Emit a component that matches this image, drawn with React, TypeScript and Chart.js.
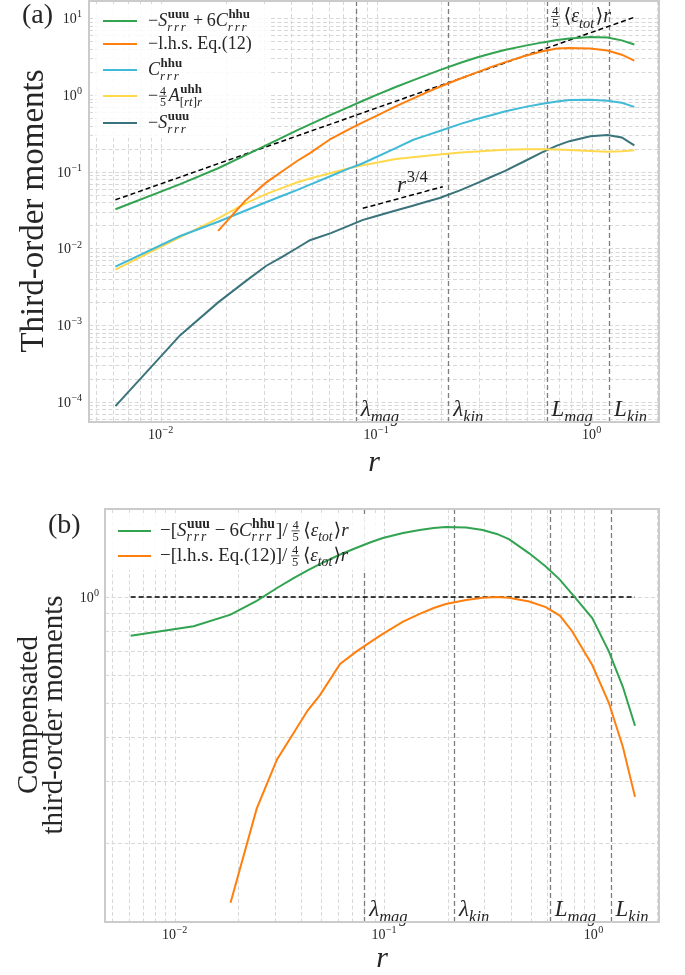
import React, { useEffect, useRef } from 'react';
import { Chart, registerables } from 'chart.js';
Chart.register(...registerables);

// ---------------- data ----------------
const r = [0.00614, 0.01227, 0.01841, 0.02454, 0.03068, 0.03682, 0.04295, 0.04909, 0.06136, 0.07363, 0.0859, 0.09817, 0.1227, 0.1473, 0.1718, 0.1963, 0.2454, 0.2945, 0.3436, 0.3927, 0.4909, 0.589, 0.6872, 0.7854, 0.9817, 1.178, 1.374, 1.571];
// panel (a)
const sumA = [0.0324, 0.0688, 0.111, 0.163, 0.221, 0.283, 0.348, 0.414, 0.551, 0.691, 0.835, 0.981, 1.27, 1.55, 1.83, 2.11, 2.63, 3.1, 3.5, 3.85, 4.4, 4.85, 5.2, 5.45, 5.7, 5.6, 5.15, 4.55];
const lhsA = [null, null, 0.0169, 0.0417, 0.072, 0.103, 0.139, 0.175, 0.269, 0.35, 0.435, 0.524, 0.709, 0.896, 1.09, 1.28, 1.64, 1.99, 2.34, 2.66, 3.24, 3.72, 4.05, 4.1, 4.05, 3.8, 3.35, 2.8];
const chhuA = [0.0058, 0.0145, 0.0223, 0.031, 0.04, 0.049, 0.058, 0.068, 0.088, 0.109, 0.128, 0.152, 0.203, 0.259, 0.3, 0.34, 0.42, 0.49, 0.55, 0.61, 0.7, 0.77, 0.82, 0.86, 0.87, 0.84, 0.79, 0.7];
const auhhA = [0.0053, 0.014, 0.0247, 0.0383, 0.051, 0.062, 0.073, 0.0815, 0.096, 0.11, 0.121, 0.13, 0.146, 0.154, 0.161, 0.168, 0.178, 0.184, 0.189, 0.193, 0.196, 0.196, 0.195, 0.192, 0.186, 0.182, 0.185, 0.19];
const suuuA = [0.000088, 0.00074, 0.00198, 0.00369, 0.0059, 0.0079, 0.0102, 0.0128, 0.0158, 0.0195, 0.0234, 0.0261, 0.0312, 0.036, 0.0408, 0.0454, 0.0575, 0.0716, 0.0865, 0.102, 0.139, 0.18, 0.219, 0.25, 0.29, 0.3, 0.28, 0.22];
const refR = [0.00614, 1.571];
const refY = [0.043, 10.3];
const slopeR = [0.0863, 0.203];
const slopeY = [0.0333, 0.0638];
// panel (b)
const sumB = [0.775, 0.825, 0.89, 0.975, 1.06, 1.13, 1.19, 1.24, 1.32, 1.38, 1.43, 1.47, 1.52, 1.55, 1.57, 1.58, 1.575, 1.55, 1.51, 1.46, 1.33, 1.22, 1.12, 1.02, 0.87, 0.7, 0.555, 0.43];
const lhsB = [null, null, 0.135, 0.25, 0.345, 0.41, 0.475, 0.525, 0.645, 0.7, 0.745, 0.785, 0.85, 0.895, 0.93, 0.955, 0.98, 0.995, 1.0, 0.995, 0.97, 0.935, 0.885, 0.8, 0.64, 0.5, 0.375, 0.27];
const unitR = [0.00614, 1.571];
const unitY = [1, 1];
// scale markers
const scaleR = [0.08, 0.215, 0.615, 1.2];
const scaleBase = ['λ', 'λ', 'L', 'L'];
const scaleSub = ['mag', 'kin', 'mag', 'kin'];
// ticks
const xTickVals = [0.01, 0.1, 1];
const xTickExp = ['−2', '−1', '0'];
const yTickValsA = [10, 1, 0.1, 0.01, 0.001, 0.0001];
const yTickExpA = ['1', '0', '−1', '−2', '−3', '−4'];
const yTickValsB = [1];
const yTickExpB = ['0'];

const X_MIN = 0.00463, X_MAX = 2.045;
const YA_MIN = 5.46e-5, YA_MAX = 16.8;
const YB_MIN = 0.119, YB_MAX = 1.778;

// ---------------- styles ----------------
const GREEN = '#32a350';
const ORANGE = '#ff7f0e';
const CYAN = '#40bad6';
const YELLOW = '#ffd84c';
const TEAL = '#3a737b';
const GRID = '#d8d8d8';
const SPINE = '#cbcbcb';
const TXT = '#262626';
const FAM = '"Liberation Serif", "DejaVu Serif", serif';

type P = { t?: string; s?: string; sup?: P[]; sub?: P[]; num?: string; den?: string; gap?: number };
const T = (t: string, s: string = 'n'): P => ({ t, s });
const G = (em: number): P => ({ gap: em });
const fnt = (s: string, size: number) =>
  `${s === 'i' ? 'italic ' : ''}${s === 'b' ? 'bold ' : ''}${size}px ${FAM}`;

function drawParts(ctx: CanvasRenderingContext2D, parts: P[], x: number, y: number, size: number, draw: boolean): number {
  let cx = x;
  for (const p of parts) {
    if (p.gap !== undefined) {
      cx += p.gap * size;
    } else if (p.t !== undefined) {
      ctx.font = fnt(p.s || 'n', size);
      if (draw) ctx.fillText(p.t, cx, y);
      cx += ctx.measureText(p.t).width;
    } else if (p.sup || p.sub) {
      const ss = size * 0.72;
      let w1 = 0, w2 = 0;
      if (p.sup) w1 = drawParts(ctx, p.sup, cx + size * 0.03, y - size * 0.42, ss, draw);
      if (p.sub) w2 = drawParts(ctx, p.sub, cx, y + size * 0.28, ss, draw);
      cx += Math.max(w1 + size * 0.03, w2) + size * 0.06;
    } else if (p.num !== undefined) {
      const fs = size * 0.66;
      ctx.font = fnt('n', fs);
      const wn = ctx.measureText(p.num).width;
      const wd = ctx.measureText(p.den || '').width;
      const w = Math.max(wn, wd) + size * 0.2;
      const axis = y - size * 0.27;
      if (draw) {
        ctx.fillText(p.num, cx + (w - wn) / 2, axis - size * 0.08);
        ctx.fillText(p.den || '', cx + (w - wd) / 2, axis + size * 0.08 + fs * 0.7);
        ctx.fillRect(cx + size * 0.05, axis - 0.4, w - size * 0.1, 0.8);
      }
      cx += w + size * 0.06;
    }
  }
  return cx - x;
}

function drawMath(ctx: CanvasRenderingContext2D, parts: P[], x: number, y: number, size: number, align: string = 'left') {
  const w = drawParts(ctx, parts, 0, 0, size, false);
  let x0 = x;
  if (align === 'center') x0 = x - w / 2;
  if (align === 'right') x0 = x - w;
  drawParts(ctx, parts, x0, y, size, true);
}

function rotText(ctx: CanvasRenderingContext2D, text: string, x: number, y: number, size: number) {
  ctx.save();
  ctx.translate(x, y);
  ctx.rotate(-Math.PI / 2);
  ctx.font = fnt('n', size);
  ctx.textAlign = 'center';
  ctx.textBaseline = 'alphabetic';
  ctx.fillText(text, 0, 0);
  ctx.restore();
}

const RRR = [T('r', 'i'), G(0.14), T('r', 'i'), G(0.14), T('r', 'i')];
const epsR: P[] = [G(0.08), T('⟨'), T('ε', 'i'), { sub: [T('tot', 'i')] }, T('⟩'), T('r', 'i')];
const legendA: { c: string; parts: P[] }[] = [
  { c: GREEN, parts: [T('−'), T('S', 'i'), { sup: [T('uuu', 'b')], sub: RRR }, G(0.15), T('+'), G(0.2), T('6'), T('C', 'i'), { sup: [T('hhu', 'b')], sub: RRR }] },
  { c: ORANGE, parts: [T('−l.h.s. Eq.(12)')] },
  { c: CYAN, parts: [T('C', 'i'), { sup: [T('hhu', 'b')], sub: RRR }] },
  { c: YELLOW, parts: [T('−'), { num: '4', den: '5' }, T('A', 'i'), { sup: [T('uhh', 'b')], sub: [T('['), T('rt', 'i'), T(']'), T('r', 'i')] }] },
  { c: TEAL, parts: [T('−'), T('S', 'i'), { sup: [T('uuu', 'b')], sub: RRR }] },
];
const legendB: { c: string; parts: P[] }[] = [
  { c: GREEN, parts: [T('−['), T('S', 'i'), { sup: [T('uuu', 'b')], sub: RRR }, G(0.2), T('−'), G(0.2), T('6'), T('C', 'i'), { sup: [T('hhu', 'b')], sub: RRR }, T(']/'), G(0.15), { num: '4', den: '5' }, ...epsR] },
  { c: ORANGE, parts: [T('−[l.h.s. Eq.(12)]/'), G(0.15), { num: '4', den: '5' }, ...epsR] },
];

type PanelOpts = {
  yTicks: number[];
  yExp: string[];
  yTickRight: number;
  legend: { c: string; parts: P[] }[];
  legendBox: number[];
  legendLineX: number[];
  legendTextX: number;
  legendRows: number[];
  legendSize: number;
  extra: (ctx: CanvasRenderingContext2D, chart: any) => void;
};

function logGrid(min: number, max: number): number[] {
  const out: number[] = [];
  for (let k = Math.floor(Math.log10(min)); k <= Math.ceil(Math.log10(max)); k++) {
    for (let m = 1; m <= 9; m++) {
      const v = m * Math.pow(10, k);
      if (v >= min && v <= max) out.push(v);
    }
  }
  return out;
}

function panelPlugin(o: PanelOpts) {
  return {
    id: 'panel',
    beforeDatasetsDraw(chart: any) {
      const { ctx, chartArea: a, scales } = chart;
      const xs = scales.x, ys = scales.y;
      ctx.save();
      ctx.strokeStyle = GRID;
      ctx.lineWidth = 1;
      ctx.setLineDash([4, 2.5]);
      for (const v of logGrid(xs.min, xs.max)) {
        const px = Math.round(xs.getPixelForValue(v)) + 0.5;
        ctx.beginPath(); ctx.moveTo(px, a.top); ctx.lineTo(px, a.bottom); ctx.stroke();
      }
      for (const v of logGrid(ys.min, ys.max)) {
        const py = Math.round(ys.getPixelForValue(v)) + 0.5;
        ctx.beginPath(); ctx.moveTo(a.left, py); ctx.lineTo(a.right, py); ctx.stroke();
      }
      ctx.strokeStyle = '#7d7d7d';
      ctx.lineWidth = 1.3;
      ctx.setLineDash([5, 3]);
      for (const v of scaleR) {
        const px = Math.round(xs.getPixelForValue(v)) + 0.5;
        ctx.beginPath(); ctx.moveTo(px, a.top); ctx.lineTo(px, a.bottom); ctx.stroke();
      }
      const b = o.legendBox;
      ctx.fillStyle = 'rgba(255,255,255,0.85)';
      ctx.fillRect(b[0], b[1], b[2], b[3]);
      ctx.restore();
    },
    afterDatasetsDraw(chart: any) {
      const { ctx, chartArea: a, scales } = chart;
      const xs = scales.x, ys = scales.y;
      ctx.save();
      ctx.fillStyle = TXT;
      ctx.textBaseline = 'alphabetic';
      // scale labels
      scaleR.forEach((v, i) => {
        const px = xs.getPixelForValue(v) + 5;
        drawMath(ctx, [T(scaleBase[i], 'i'), { sub: [T(scaleSub[i], 'i')] }], px, a.bottom - 6, 23);
      });
      // legend
      o.legend.forEach((it, i) => {
        const yy = o.legendRows[i];
        ctx.strokeStyle = it.c;
        ctx.lineWidth = 2.2;
        ctx.setLineDash([]);
        ctx.beginPath(); ctx.moveTo(o.legendLineX[0], yy); ctx.lineTo(o.legendLineX[1], yy); ctx.stroke();
        ctx.fillStyle = TXT;
        drawMath(ctx, it.parts, o.legendTextX, yy + 5, o.legendSize);
      });
      // spines
      ctx.strokeStyle = SPINE;
      ctx.lineWidth = 2;
      ctx.setLineDash([]);
      ctx.strokeRect(a.left, a.top, a.right - a.left, a.bottom - a.top);
      // ticks
      ctx.fillStyle = TXT;
      xTickVals.forEach((v, i) => {
        drawMath(ctx, [T('10'), { sup: [T(xTickExp[i])] }], xs.getPixelForValue(v), a.bottom + 17, 14, 'center');
      });
      o.yTicks.forEach((v, i) => {
        drawMath(ctx, [T('10'), { sup: [T(o.yExp[i])] }], o.yTickRight, ys.getPixelForValue(v) + 5, 14, 'right');
      });
      o.extra(ctx, chart);
      ctx.restore();
    },
  };
}

const pts = (xv: number[], yv: (number | null)[]) =>
  xv.map((x, i) => ({ x, y: yv[i] })).filter((p) => p.y !== null);

function line(data: any[], color: string, dash: number[] = [], width = 2) {
  return { data, borderColor: color, borderWidth: width, borderDash: dash, pointRadius: 0, tension: 0, fill: false };
}

function baseOptions(padding: any, ymin: number, ymax: number) {
  const ax = (min: number, max: number) => ({
    type: 'logarithmic', min, max, display: true,
    ticks: { display: false }, grid: { display: false, drawTicks: false }, border: { display: false },
  });
  return {
    responsive: false,
    animation: false,
    devicePixelRatio: 1,
    layout: { padding },
    plugins: { legend: { display: false }, tooltip: { enabled: false } },
    scales: { x: ax(X_MIN, X_MAX), y: ax(ymin, ymax) },
  };
}

export default function App() {
  const topRef = useRef<HTMLCanvasElement>(null);
  const botRef = useRef<HTMLCanvasElement>(null);
  useEffect(() => {
    document.body.style.margin = '0';
    const top = new Chart(topRef.current as HTMLCanvasElement, {
      type: 'line',
      data: {
        datasets: [
          line(pts(r, sumA), GREEN),
          line(pts(r, lhsA), ORANGE),
          line(pts(r, chhuA), CYAN),
          line(pts(r, auhhA), YELLOW),
          line(pts(r, suuuA), TEAL),
          line(pts(refR, refY), '#000000', [5, 3], 1.5),
          line(pts(slopeR, slopeY), '#000000', [5, 3], 1.5),
        ] as any,
      },
      options: baseOptions({ left: 89, top: 1, right: 26, bottom: 65 }, YA_MIN, YA_MAX) as any,
      plugins: [
        panelPlugin({
          yTicks: yTickValsA, yExp: yTickExpA, yTickRight: 83,
          legend: legendA, legendBox: [96, 4, 174, 134], legendLineX: [103, 137], legendTextX: 148,
          legendRows: [21, 44, 70, 96, 123], legendSize: 18,
          extra: (ctx) => {
            ctx.fillStyle = TXT;
            ctx.font = fnt('n', 28);
            ctx.textAlign = 'left';
            ctx.fillText('(a)', 22, 23);
            rotText(ctx, 'Third-order moments', 43, 211, 33);
            drawMath(ctx, [T('r', 'i')], 374, 471, 30, 'center');
            drawMath(ctx, [{ num: '4', den: '5' }, ...epsR], 550, 22, 20);
            drawMath(ctx, [T('r', 'i'), { sup: [T('3/4')] }], 397, 192, 23);
          },
        }) as any,
      ],
    });
    const bot = new Chart(botRef.current as HTMLCanvasElement, {
      type: 'line',
      data: {
        datasets: [
          line(pts(r, sumB), GREEN),
          line(pts(r, lhsB), ORANGE),
          line(pts(unitR, unitY), '#000000', [5, 3], 1.5),
        ] as any,
      },
      options: baseOptions({ left: 105, top: 22, right: 26, bottom: 53 }, YB_MIN, YB_MAX) as any,
      plugins: [
        panelPlugin({
          yTicks: yTickValsB, yExp: yTickExpB, yTickRight: 100,
          legend: legendB, legendBox: [112, 27, 270, 56], legendLineX: [118, 151], legendTextX: 160,
          legendRows: [44, 69], legendSize: 19,
          extra: (ctx) => {
            ctx.fillStyle = TXT;
            ctx.font = fnt('n', 28);
            ctx.textAlign = 'left';
            ctx.fillText('(b)', 48, 46);
            rotText(ctx, 'Compensated', 37, 228, 29);
            rotText(ctx, 'third-order moments', 62, 228, 29);
            drawMath(ctx, [T('r', 'i')], 382, 480, 30, 'center');
          },
        }) as any,
      ],
    });
    return () => { top.destroy(); bot.destroy(); };
  }, []);
  return (
    <div style={{ position: 'fixed', left: 0, top: 0, width: 685, height: 975, background: '#ffffff' }}>
      <canvas ref={topRef} width={685} height={487} style={{ position: 'absolute', left: 0, top: 0 }} />
      <canvas ref={botRef} width={685} height={488} style={{ position: 'absolute', left: 0, top: 487 }} />
    </div>
  );
}
